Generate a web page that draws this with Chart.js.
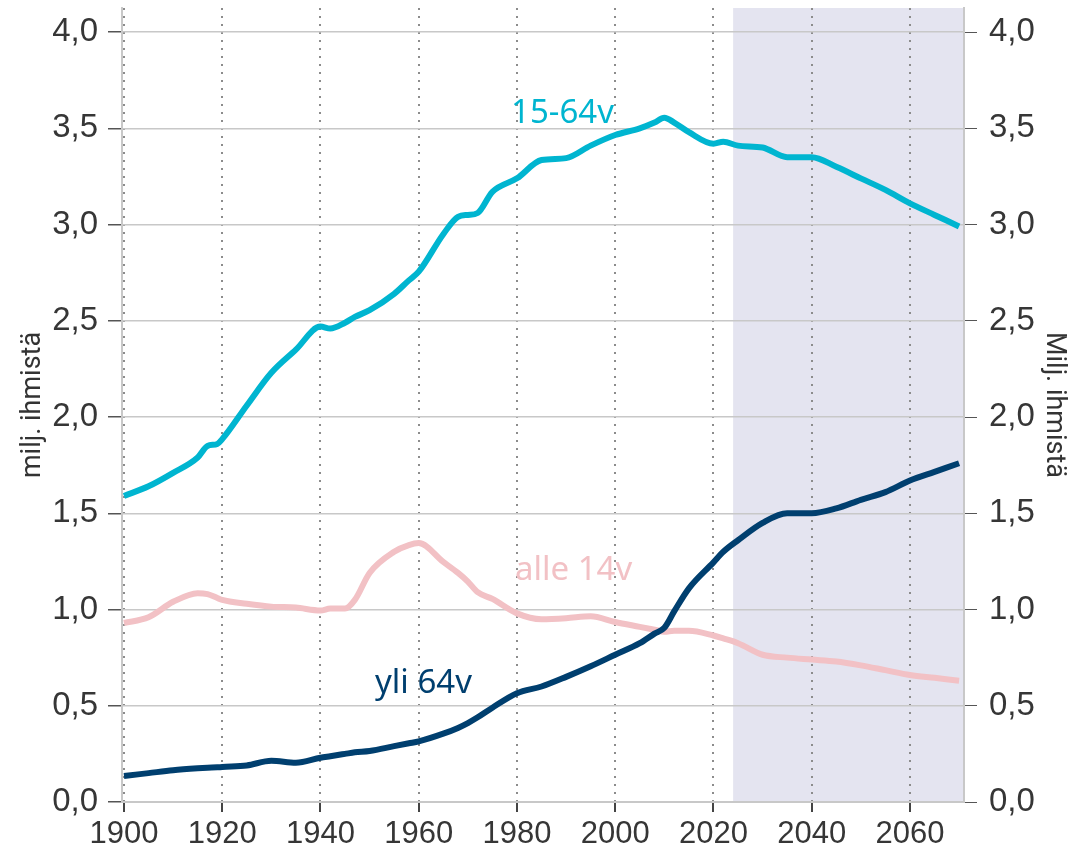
<!DOCTYPE html>
<html>
<head>
<meta charset="utf-8">
<script src="https://cdn.jsdelivr.net/npm/chart.js@4"></script>
<style>
  html, body { margin: 0; padding: 0; background: #fff; }
  #wrap { width: 1073px; height: 855px; }
</style>
</head>
<body>
<div id="wrap"><canvas id="population"></canvas></div>
<script>
const years = [1900, 1905, 1910, 1915, 1917, 1919, 1920, 1925, 1930, 1935, 1940, 1942, 1945, 1947, 1950, 1955, 1958, 1960, 1965, 1968, 1970, 1972, 1975, 1980, 1985, 1990, 1995, 2000, 2005, 2008, 2010, 2012, 2015, 2020, 2022, 2025, 2030, 2035, 2040, 2045, 2050, 2055, 2060, 2065, 2070]
const age15to64 = [1.59, 1.64, 1.71, 1.79, 1.85, 1.86, 1.885, 2.06, 2.23, 2.35, 2.47, 2.46, 2.49, 2.52, 2.555, 2.64, 2.71, 2.755, 2.95, 3.04, 3.05, 3.06, 3.17, 3.24, 3.335, 3.345, 3.41, 3.465, 3.50, 3.53, 3.555, 3.53, 3.48, 3.42, 3.43, 3.41, 3.40, 3.35, 3.35, 3.30, 3.24, 3.18, 3.11, 3.05, 2.99]
const under14 = [0.93, 0.96, 1.04, 1.085, 1.08, 1.06, 1.05, 1.03, 1.015, 1.01, 0.995, 1.005, 1.005, 1.05, 1.19, 1.30, 1.335, 1.345, 1.247, 1.19, 1.145, 1.09, 1.055, 0.98, 0.95, 0.955, 0.965, 0.935, 0.91, 0.895, 0.885, 0.89, 0.89, 0.865, 0.85, 0.825, 0.765, 0.75, 0.74, 0.73, 0.71, 0.685, 0.66, 0.645, 0.63]
const over64 = [0.135, 0.15, 0.165, 0.175, 0.178, 0.18, 0.182, 0.19, 0.214, 0.204, 0.23, 0.238, 0.25, 0.258, 0.265, 0.29, 0.305, 0.315, 0.355, 0.385, 0.41, 0.44, 0.49, 0.565, 0.60, 0.65, 0.705, 0.765, 0.825, 0.875, 0.905, 0.99, 1.11, 1.245, 1.30, 1.36, 1.45, 1.50, 1.50, 1.525, 1.57, 1.61, 1.67, 1.715, 1.76]

const xTicks = [1900, 1920, 1940, 1960, 1980, 2000, 2020, 2040, 2060]
const yTicks = [0, 0.5, 1, 1.5, 2, 2.5, 3, 3.5, 4]
const forecastStart = 2024

const seriesNames = ['yli 64v', 'alle 14v', '15-64v']
const seriesColors = ['#003f6f', '#f2c1c5', '#00b5d0']
const labelYears = [1951.1, 1979.6, 1978.8]
const labelValues = [0.566, 1.153, 3.527]

const toPoints = values => years.map((year, i) => ({ x: year, y: values[i] }))
const fmt = v => v.toFixed(1).replace('.', ',')

const forecastShade = {
  id: 'forecastShade',
  beforeDraw(chart) {
    const { ctx, chartArea, scales } = chart
    const x0 = scales.x.getPixelForValue(forecastStart)
    ctx.save()
    ctx.fillStyle = '#e4e4f0'
    ctx.fillRect(x0, chartArea.top, chartArea.right - x0, chartArea.bottom - chartArea.top)
    ctx.restore()
  }
}

const seriesLabels = {
  id: 'seriesLabels',
  afterDatasetsDraw(chart) {
    const { ctx, scales } = chart
    ctx.save()
    ctx.font = '33px "Noto Sans"'
    ctx.textAlign = 'left'
    ctx.textBaseline = 'alphabetic'
    seriesNames.forEach((name, i) => {
      ctx.fillStyle = seriesColors[i]
      ctx.fillText(name, scales.x.getPixelForValue(labelYears[i]), scales.y.getPixelForValue(labelValues[i]))
    })
    ctx.restore()
  }
}

const noEdgePadding = scale => {
  scale.paddingTop = 0
  scale.paddingBottom = 0
}

const yTickFont = { family: '"Liberation Sans", Arial, sans-serif', size: 33 }
const xTickFont = { family: '"Liberation Sans", Arial, sans-serif', size: 31 }
const titleFont = { family: 'Roboto, sans-serif', size: 27 }

new Chart(document.getElementById('population'), {
  type: 'line',
  data: {
    datasets: [over64, under14, age15to64].map((values, i) => ({
      label: seriesNames[i],
      data: toPoints(values),
      borderColor: seriesColors[i],
      borderWidth: 6,
      pointRadius: 0,
      fill: false,
      cubicInterpolationMode: 'monotone',
      yAxisID: 'y'
    }))
  },
  options: {
    responsive: true,
    maintainAspectRatio: false,
    animation: false,
    layout: { padding: { top: 8, left: 0, right: 0, bottom: 0 } },
    plugins: { legend: { display: false }, tooltip: { enabled: false } },
    scales: {
      x: {
        type: 'linear',
        min: 1899.6,
        max: 2071,
        afterBuildTicks: scale => { scale.ticks = xTicks.map(v => ({ value: v })) },
        afterFit: scale => { scale.height = 53 },
        ticks: { callback: v => String(v), color: '#363636', font: xTickFont, padding: 4, maxRotation: 0 },
        grid: { color: '#8c8c8c', lineWidth: 2, tickColor: '#444', tickLength: 10, tickBorderDash: [] },
        border: { color: '#c8c8c8', width: 2, dash: [2, 6] }
      },
      y: {
        position: 'left',
        min: 0,
        max: 4.125,
        afterBuildTicks: scale => { scale.ticks = yTicks.map(v => ({ value: v })) },
        afterFit: scale => { scale.width = 122; noEdgePadding(scale) },
        ticks: { callback: v => fmt(v), color: '#363636', font: yTickFont, padding: 10 },
        grid: { color: '#c8c8c8', lineWidth: 1.5, tickColor: '#555', tickLength: 14 },
        border: { color: '#c8c8c8', width: 2 },
        title: { display: true, text: 'milj. ihmistä', color: '#333', font: titleFont, padding: { top: 17, bottom: 0 } }
      },
      y2: {
        position: 'right',
        min: 0,
        max: 4.125,
        afterBuildTicks: scale => { scale.ticks = yTicks.map(v => ({ value: v })) },
        afterFit: scale => { scale.width = 109; noEdgePadding(scale) },
        ticks: { callback: v => fmt(v), color: '#363636', font: yTickFont, padding: 12 },
        grid: { drawOnChartArea: false, tickColor: '#555', tickLength: 13 },
        border: { color: '#c8c8c8', width: 2 },
        title: { display: true, text: 'Milj. ihmistä', color: '#333', font: titleFont, padding: { top: 3, bottom: 0 } }
      }
    }
  },
  plugins: [forecastShade, seriesLabels]
})
</script>
</body>
</html>
